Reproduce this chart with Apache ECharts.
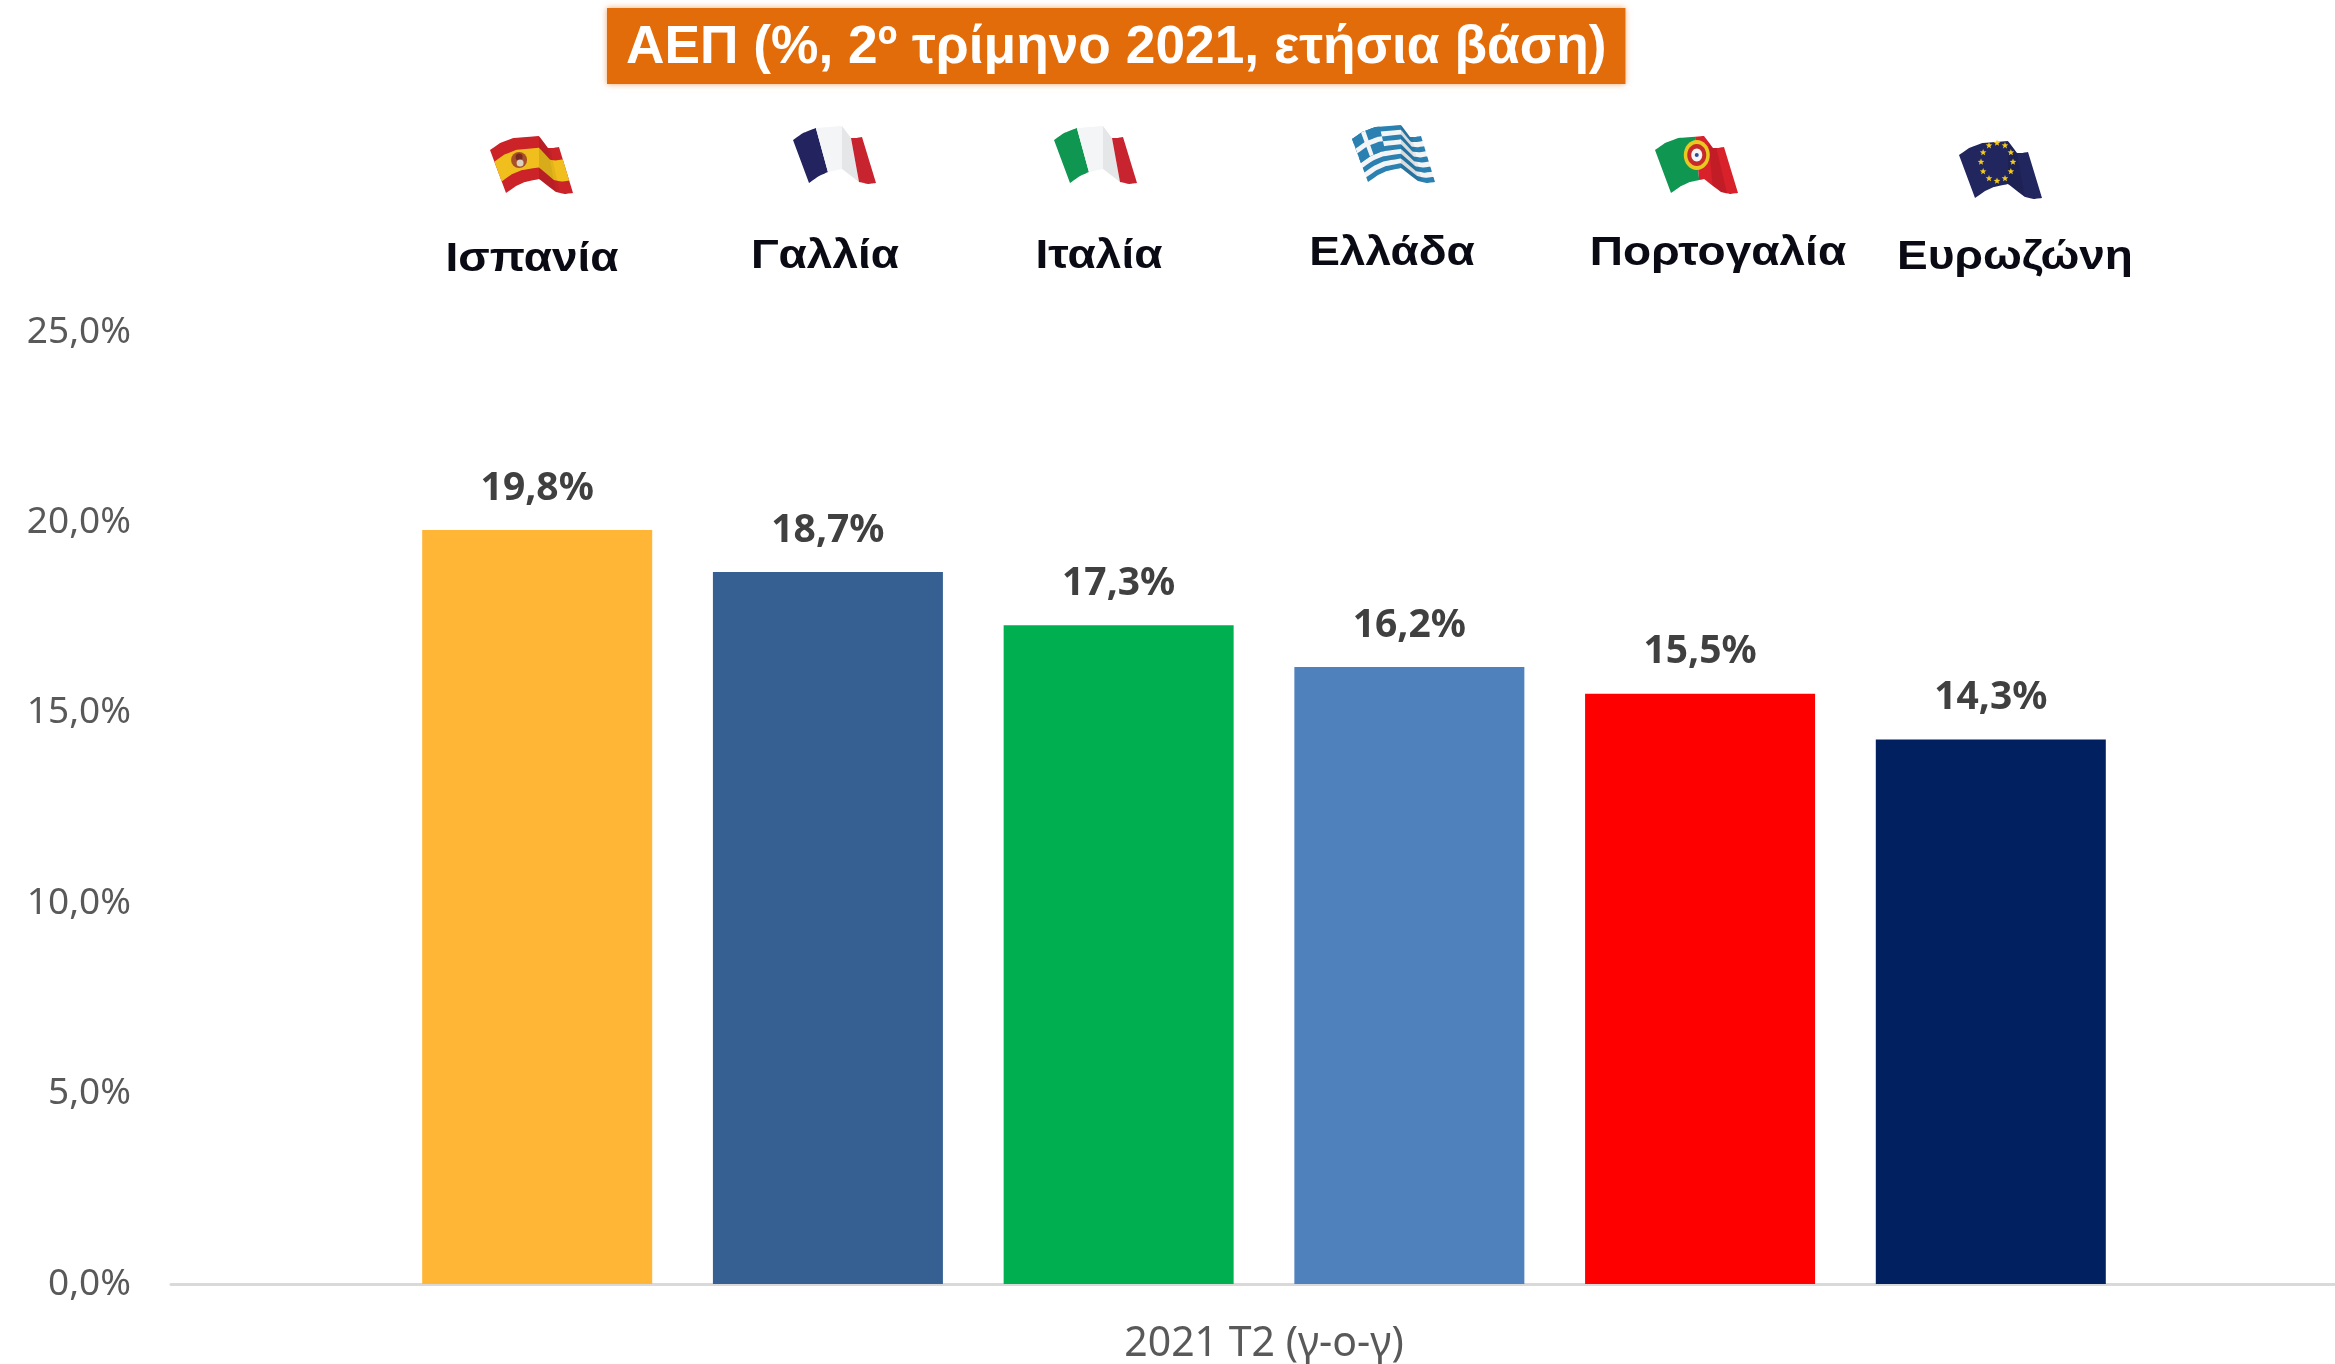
<!DOCTYPE html>
<html lang="el">
<head>
<meta charset="utf-8">
<title>ΑΕΠ</title>
<script src="https://cdn.jsdelivr.net/npm/echarts@6/dist/echarts.min.js"></script>
<style>
  html, body { margin: 0; padding: 0; background: #fff; overflow: hidden; }
  #chart { width: 2335px; height: 1364px; }
</style>
</head>
<body>
<div id="chart"></div>
<script>
/* ---------------- Data ---------------- */
const titleText = "ΑΕΠ (%, 2º τρίμηνο 2021, ετήσια βάση)";
const categories = ["2021 T2 (γ-ο-γ)"];
const countries = ["Ισπανία", "Γαλλία", "Ιταλία", "Ελλάδα", "Πορτογαλία", "Ευρωζώνη"];
const values = [19.8, 18.7, 17.3, 16.2, 15.5, 14.3];
const barColors = ["#FFB535", "#376092", "#00B050", "#4F81BD", "#FF0000", "#002060"];

const pct = v => v.toFixed(1).replace(".", ",") + "%";

/* ---------------- Flags (decoration above the plot) ---------------- */
const topEdge = [[0, 0, 0], [.2, 10, -7], [.35, 23, -12], [.6, 49, -14], [.72, 58, -2], [.85, 63, -2], [1, 69, -3]];
const botEdge = [[0, 16, 43], [.2, 26, 36], [.35, 35, 32], [.6, 49, 29], [.72, 66, 42], [.85, 75, 44], [1, 83, 43]];

function edgeAt(edge, u) {
  let i = 0;
  while (i < edge.length - 2 && u > edge[i + 1][0]) i++;
  const a = edge[i], b = edge[i + 1];
  const t = (u - a[0]) / (b[0] - a[0]);
  const s = (1 - Math.cos(t * Math.PI)) / 2;
  return [a[1] + (b[1] - a[1]) * s, a[2] + (b[2] - a[2]) * s];
}

// map flag coords (u along, v down) on the waving cloth
function surf(ox, oy, u, v) {
  const p = edgeAt(topEdge, u), q = edgeAt(botEdge, u);
  return [ox + p[0] + (q[0] - p[0]) * v, oy + p[1] + (q[1] - p[1]) * v];
}

function patch(ox, oy, u0, u1, v0, v1, fill) {
  const pts = [];
  const n = 24;
  for (let i = 0; i <= n; i++) pts.push(surf(ox, oy, u0 + (u1 - u0) * i / n, v0));
  for (let i = n; i >= 0; i--) pts.push(surf(ox, oy, u0 + (u1 - u0) * i / n, v1));
  return { type: "polygon", shape: { points: pts }, style: { fill } };
}

function dot(x, y, r, fill) {
  return { type: "circle", shape: { cx: x, cy: y, r }, style: { fill } };
}

function star(x, y, r, fill) {
  const pts = [];
  for (let i = 0; i < 10; i++) {
    const a = -Math.PI / 2 + i * Math.PI / 5;
    const rr = i % 2 ? r * 0.42 : r;
    pts.push([x + rr * Math.cos(a), y + rr * Math.sin(a)]);
  }
  return { type: "polygon", shape: { points: pts }, style: { fill } };
}

function fold(ox, oy) {
  return [
    patch(ox, oy, .6, .72, 0, 1, "rgba(0,0,0,.10)"),
    patch(ox, oy, .72, .78, 0, 1, "rgba(0,0,0,.05)")
  ];
}

function flagSpain(ox, oy) {
  const p = surf(ox, oy, .36, .5);
  return [
    patch(ox, oy, 0, 1, 0, 1, "#cc2329"),
    patch(ox, oy, 0, 1, .27, .73, "#f1bf1d"),
    dot(p[0], p[1], 8, "#a8502a"),
    dot(p[0], p[1] - 3, 3.5, "#7a2a20"),
    dot(p[0] + 1, p[1] + 3, 3.5, "#d9d2c0"),
    ...fold(ox, oy)
  ];
}

function flagThree(ox, oy, c1, c2, c3) {
  return [
    patch(ox, oy, 0, .34, 0, 1, c1),
    patch(ox, oy, .34, .72, 0, 1, c2),
    patch(ox, oy, .72, 1, 0, 1, c3),
    patch(ox, oy, .6, .72, 0, 1, "rgba(0,0,0,.06)")
  ];
}

function flagGreece(ox, oy) {
  const els = [patch(ox, oy, 0, 1, 0, 1, "#f2f4f5")];
  for (let i = 0; i < 9; i += 2) els.push(patch(ox, oy, 0, 1, i / 9, (i + 1) / 9, "#2a80b0"));
  els.push(patch(ox, oy, 0, .42, 0, 5 / 9, "#2a80b0"));
  els.push(patch(ox, oy, .16, .25, 0, 5 / 9, "#f2f4f5"));
  els.push(patch(ox, oy, 0, .42, 2 / 9, 3 / 9, "#f2f4f5"));
  return els.concat(fold(ox, oy));
}

function flagPortugal(ox, oy) {
  const p = surf(ox, oy, .5, .42);
  return [
    patch(ox, oy, 0, .5, 0, 1, "#0f9650"),
    patch(ox, oy, .5, 1, 0, 1, "#d8212b"),
    patch(ox, oy, .66, .8, 0, 1, "rgba(0,0,0,.10)"),
    { type: "ellipse", shape: { cx: p[0], cy: p[1], rx: 13, ry: 15 }, style: { fill: "#e9c81f" } },
    { type: "ellipse", shape: { cx: p[0], cy: p[1], rx: 9.5, ry: 11 }, style: { fill: "#c72a2a" } },
    { type: "ellipse", shape: { cx: p[0], cy: p[1], rx: 5.5, ry: 6.5 }, style: { fill: "#f5f5f5" } },
    dot(p[0], p[1], 2, "#2a4f9a")
  ];
}

function flagEurope(ox, oy) {
  const els = [patch(ox, oy, 0, 1, 0, 1, "#22265f"), patch(ox, oy, .6, .72, 0, 1, "rgba(0,0,0,.12)")];
  const c = [ox + 38, oy + 7];
  for (let i = 0; i < 12; i++) {
    const a = i * Math.PI / 6;
    els.push(star(c[0] + 16 * Math.cos(a), c[1] + 19 * Math.sin(a), 3.5, "#f2cb1c"));
  }
  return els;
}

const flagElements = [
  ...flagSpain(490, 150),
  ...flagThree(793, 140, "#22235f", "#f3f5f6", "#c8242f"),
  ...flagThree(1054, 140, "#0f9650", "#f3f5f6", "#c8242f"),
  ...flagGreece(1352, 139),
  ...flagPortugal(1655, 150),
  ...flagEurope(1959, 155)
];

/* ---------------- Country names ---------------- */
const nameX = [532, 825, 1099, 1392, 1718, 2015];
const nameY = [260, 257, 257, 254, 254, 258];
const nameElements = countries.map((c, i) => ({
  type: "text",
  x: nameX[i],
  y: nameY[i],
  scaleX: 1.15,
  style: {
    text: c,
    fill: "#0a0a14",
    font: 'bold 40px "Liberation Sans", sans-serif',
    textAlign: "center",
    textVerticalAlign: "middle"
  }
}));

/* ---------------- Chart ---------------- */
const chart = echarts.init(document.getElementById("chart"));

const gray = "#595959";
const axisFont = '"Noto Sans", sans-serif';

chart.setOption({
  animation: false,
  backgroundColor: "#fff",
  title: {
    text: titleText,
    left: 607,
    top: 8,
    backgroundColor: "#e36c0a",
    padding: [14, 19, 9, 19],
    shadowColor: "rgba(227,108,10,.6)",
    shadowBlur: 6,
    textStyle: {
      color: "#fff",
      fontFamily: '"Liberation Sans", Arial, sans-serif',
      fontWeight: "bold",
      fontSize: 53.3
    }
  },
  grid: { left: 171, top: 332, width: 2186, height: 952, outerBoundsMode: "none" },
  xAxis: {
    type: "category",
    data: categories,
    offset: 1.5,
    axisLine: { lineStyle: { color: "#d9d9d9", width: 3 } },
    axisTick: { show: false },
    axisLabel: { color: gray, fontSize: 41, fontFamily: axisFont, margin: 38 }
  },
  yAxis: {
    type: "value",
    min: 0,
    max: 25,
    interval: 5,
    splitLine: { show: false },
    axisLine: { show: false },
    axisTick: { show: false },
    axisLabel: {
      color: gray,
      fontSize: 37,
      fontFamily: axisFont,
      margin: 40,
      padding: [0, 0, 6, 0],
      formatter: pct
    }
  },
  series: countries.map((name, i) => ({
    name,
    type: "bar",
    data: [values[i]],
    barWidth: 230,
    barGap: "26.4%",
    itemStyle: { color: barColors[i] },
    label: {
      show: true,
      position: "top",
      distance: 22,
      color: "#404040",
      fontSize: 39,
      fontWeight: "bold",
      fontFamily: axisFont,
      formatter: p => pct(p.value)
    }
  })),
  graphic: { elements: [...flagElements, ...nameElements] }
});
</script>
</body>
</html>
